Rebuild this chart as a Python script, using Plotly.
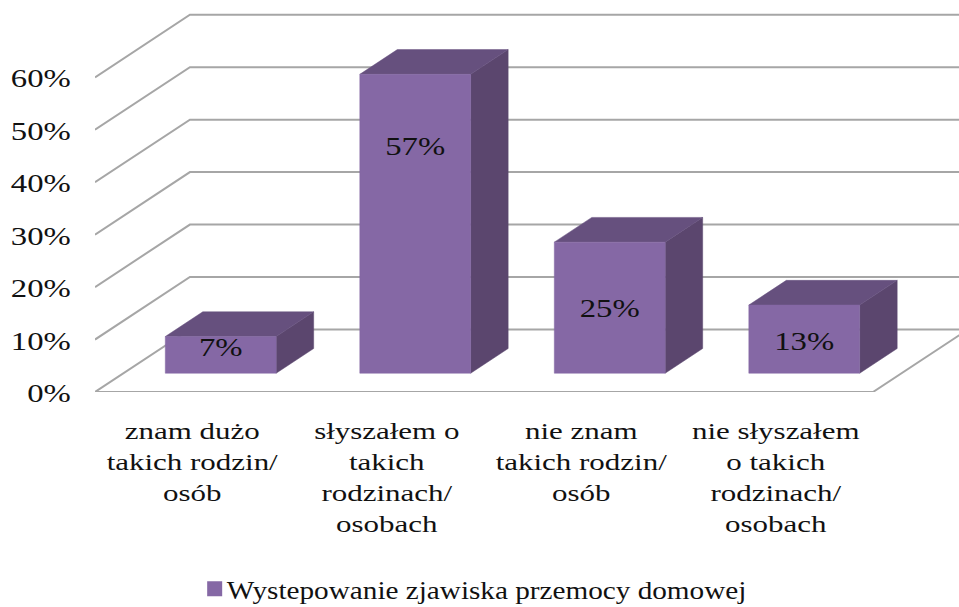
import plotly.graph_objects as go

categories = ["znam dużo<br>takich rodzin/<br>osób",
              "słyszałem o<br>takich<br>rodzinach/<br>osobach",
              "nie znam<br>takich rodzin/<br>osób",
              "nie słyszałem<br>o takich<br>rodzinach/<br>osobach"]
values = [7, 57, 25, 13]
value_labels = ["7%", "57%", "25%", "13%"]
y_ticks = [0, 10, 20, 30, 40, 50, 60]
y_tick_labels = ["0%", "10%", "20%", "30%", "40%", "50%", "60%"]
series_name = "Wystepowanie zjawiska przemocy domowej"

# oblique projection (depth d in 0..1 of the floor)
DX = 0.488      # category units shifted at full depth
DY = 11.93      # percent units shifted at full depth
BAR_D0, BAR_D1 = 0.30, 0.695
HALF = 0.285
LABEL_FRAC = [0.65, 0.753, 0.477, 0.44]

FONT = "Liberation Serif"
TXT = "#111111"
GRID = "#a6a6a6"
FRONT, TOP, SIDE = "#8568a5", "#66507e", "#5b466e"


def proj(x, v, d):
    return x + d * DX, v + d * DY


def poly(points):
    xs, ys = [], []
    for x, v, d in points + points[:1]:
        px, py = proj(x, v, d)
        xs.append(px)
        ys.append(py)
    return xs, ys


def line_trace(points, width=2, color=GRID):
    xs, ys = zip(*[proj(*p) for p in points])
    return go.Scatter(x=xs, y=ys, mode="lines", hoverinfo="skip", showlegend=False,
                      line=dict(color=color, width=width))


fig = go.Figure()
X0, X1 = -0.5, len(values) - 0.5

# back wall and left wall gridlines
for t in y_ticks:
    fig.add_trace(line_trace([(X0, t, 0), (X0, t, 1), (X1, t, 1)]))
# floor
fig.add_trace(line_trace([(X0, 0, 0), (X1, 0, 0), (X1, 0, 1)]))


def faces(make):
    xs, ys = [], []
    for i, v in enumerate(values):
        a, b = make(i, v)
        xs += a + [None]
        ys += b + [None]
    return xs, ys


def add_face(make, color):
    xs, ys = faces(make)
    fig.add_trace(go.Scatter(x=xs, y=ys, mode="lines", fill="toself", fillcolor=color,
                             line=dict(color=color, width=0.5), hoverinfo="skip",
                             showlegend=False))


add_face(lambda i, v: poly([(i + HALF, 0, BAR_D0), (i + HALF, 0, BAR_D1),
                            (i + HALF, v, BAR_D1), (i + HALF, v, BAR_D0)]), SIDE)
add_face(lambda i, v: poly([(i - HALF, v, BAR_D0), (i - HALF, v, BAR_D1),
                            (i + HALF, v, BAR_D1), (i + HALF, v, BAR_D0)]), TOP)
add_face(lambda i, v: poly([(i - HALF, 0, BAR_D0), (i + HALF, 0, BAR_D0),
                            (i + HALF, v, BAR_D0), (i - HALF, v, BAR_D0)]), FRONT)

# data labels
lx, ly = [], []
for i, v in enumerate(values):
    px, py = proj(i, v * LABEL_FRAC[i], BAR_D0)
    lx.append(px)
    ly.append(py)
fig.add_trace(go.Scatter(x=lx, y=ly, mode="text", text=value_labels, hoverinfo="skip",
                         showlegend=False, textposition="middle center",
                         textfont=dict(family=FONT, size=26, color=TXT)))

# legend entry
fig.add_trace(go.Scatter(x=[None], y=[None], mode="markers", name=series_name,
                         marker=dict(symbol="square", size=15, color=FRONT)))

fig.update_layout(
    width=959, height=607,
    margin=dict(l=95, r=0, t=0, b=215.3),
    paper_bgcolor="white", plot_bgcolor="white",
    font=dict(family=FONT, size=24, color=TXT),
    xaxis=dict(range=[X0, 3.942], tickmode="array", tickvals=list(range(len(values))),
               ticktext=categories, showgrid=False, zeroline=False, showline=False,
               ticks="outside", ticklen=17, tickcolor="rgba(0,0,0,0)",
               tickangle=0,
               tickfont=dict(family=FONT, size=24, color=TXT)),
    yaxis=dict(range=[0, 74.75], tickmode="array", tickvals=y_ticks,
               ticktext=y_tick_labels, showgrid=False, zeroline=False, showline=False,
               ticks="outside", ticklen=18, tickcolor="rgba(0,0,0,0)",
               tickfont=dict(family=FONT, size=26, color=TXT)),
    showlegend=True,
    legend=dict(orientation="h", xref="container", x=0.203, xanchor="left",
                yref="container", y=0.03, yanchor="middle",
                itemsizing="trace", entrywidth=600, entrywidthmode="pixels",
                font=dict(family=FONT, size=26, color=TXT), bgcolor="rgba(0,0,0,0)"),
)

# The reference text is stretched sideways: scale the real text elements in x.
script = """
document.body.style.margin='0';
var gd=document.querySelector('.plotly-graph-div');
function st(sel,s,org,dy){gd.querySelectorAll(sel).forEach(function(e){
  var b=e.getBBox();
  var c=org=='r'?b.x+b.width:(org=='l'?b.x:b.x+b.width/2);
  e.setAttribute('transform',(e.getAttribute('transform')||'')+' translate('+c+','+(dy||0)+') scale('+s+',1) translate('+(-c)+',0)');
});}
st('.ytick text',1.26,'r',1);
st('.textpoint text',1.26,'c');
st('.xtick text',1.29,'c');
gd.querySelectorAll('.legendtext').forEach(function(e){
  var w=e.getBBox().width;
  e.setAttribute('x',+e.getAttribute('x')-8);
  st('.legendtext',520/w,'l');
});
"""
fig.write_html("out.html", post_script=script, config=dict(displayModeBar=False))
